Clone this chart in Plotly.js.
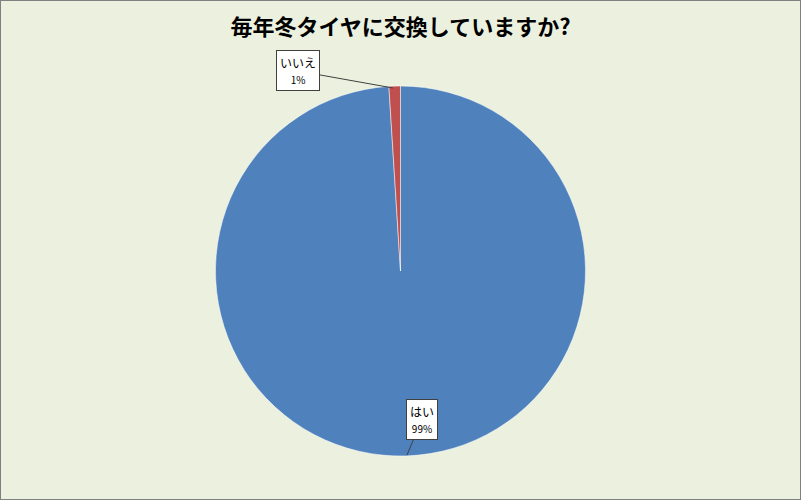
<!DOCTYPE html>
<html>
<head>
<meta charset="utf-8">
<script src="https://cdn.plot.ly/plotly-3.0.1.min.js"></script>
<style>
  html, body { margin: 0; padding: 0; background: #EBF1DE; }
  #grafico { width: 801px; height: 500px; }
</style>
</head>
<body>
<div id="grafico"></div>
<script>
// 回答データ
let respuestas = ["はい", "いいえ"];
let valores = [99, 1];
let colores = ["#4F81BD", "#C0504D"];

let W = 801, H = 500;
function px(x){ return x / W; }
function py(y){ return 1 - y / H; }

let trace = {
    type: "pie",
    labels: respuestas,
    values: valores,
    sort: false,
    direction: "clockwise",
    rotation: 0,
    textinfo: "none",
    hoverinfo: "label+percent",
    marker: {
        colors: colores,
        line: { color: "#FFFFFF", width: 0.5 }
    },
    domain: { x: [0, 1], y: [py(456), py(86)] },
    showlegend: false
};

let fuente = { family: "Noto Sans CJK JP, sans-serif", size: 12, color: "#000000" };

let layout = {
    width: W,
    height: H,
    paper_bgcolor: "#EBF1DE",
    margin: { t: 0, l: 0, r: 0, b: 0 },
    title: {
        text: "<b>毎年冬タイヤに交換していますか?</b>",
        font: { family: "Noto Sans CJK JP, sans-serif", size: 22, color: "#000000" },
        x: 0.5, xanchor: "center",
        y: py(27), yanchor: "middle"
    },
    annotations: [
        {
            xref: "paper", yref: "paper",
            x: px(393), y: py(88),
            ax: -95, ay: -17,
            text: "いいえ<br><span style='font-size:10px'>1%</span>",
            font: fuente,
            showarrow: true, arrowhead: 0, arrowwidth: 1, arrowcolor: "#404040",
            bgcolor: "#FFFFFF", bordercolor: "#404040", borderwidth: 1, borderpad: 3
        },
        {
            xref: "paper", yref: "paper",
            x: px(407), y: py(455),
            ax: 15, ay: -36,
            text: "はい<br><span style='font-size:10px'>99%</span>",
            font: fuente,
            showarrow: true, arrowhead: 0, arrowwidth: 1, arrowcolor: "#404040",
            bgcolor: "#FFFFFF", bordercolor: "#404040", borderwidth: 1, borderpad: 3
        }
    ],
    shapes: [
        {
            type: "rect", xref: "paper", yref: "paper",
            x0: 0, x1: 1, y0: 0, y1: 1,
            line: { color: "#808080", width: 2 }
        }
    ]
};

Plotly.newPlot("grafico", [trace], layout, { displayModeBar: false });
</script>
</body>
</html>
